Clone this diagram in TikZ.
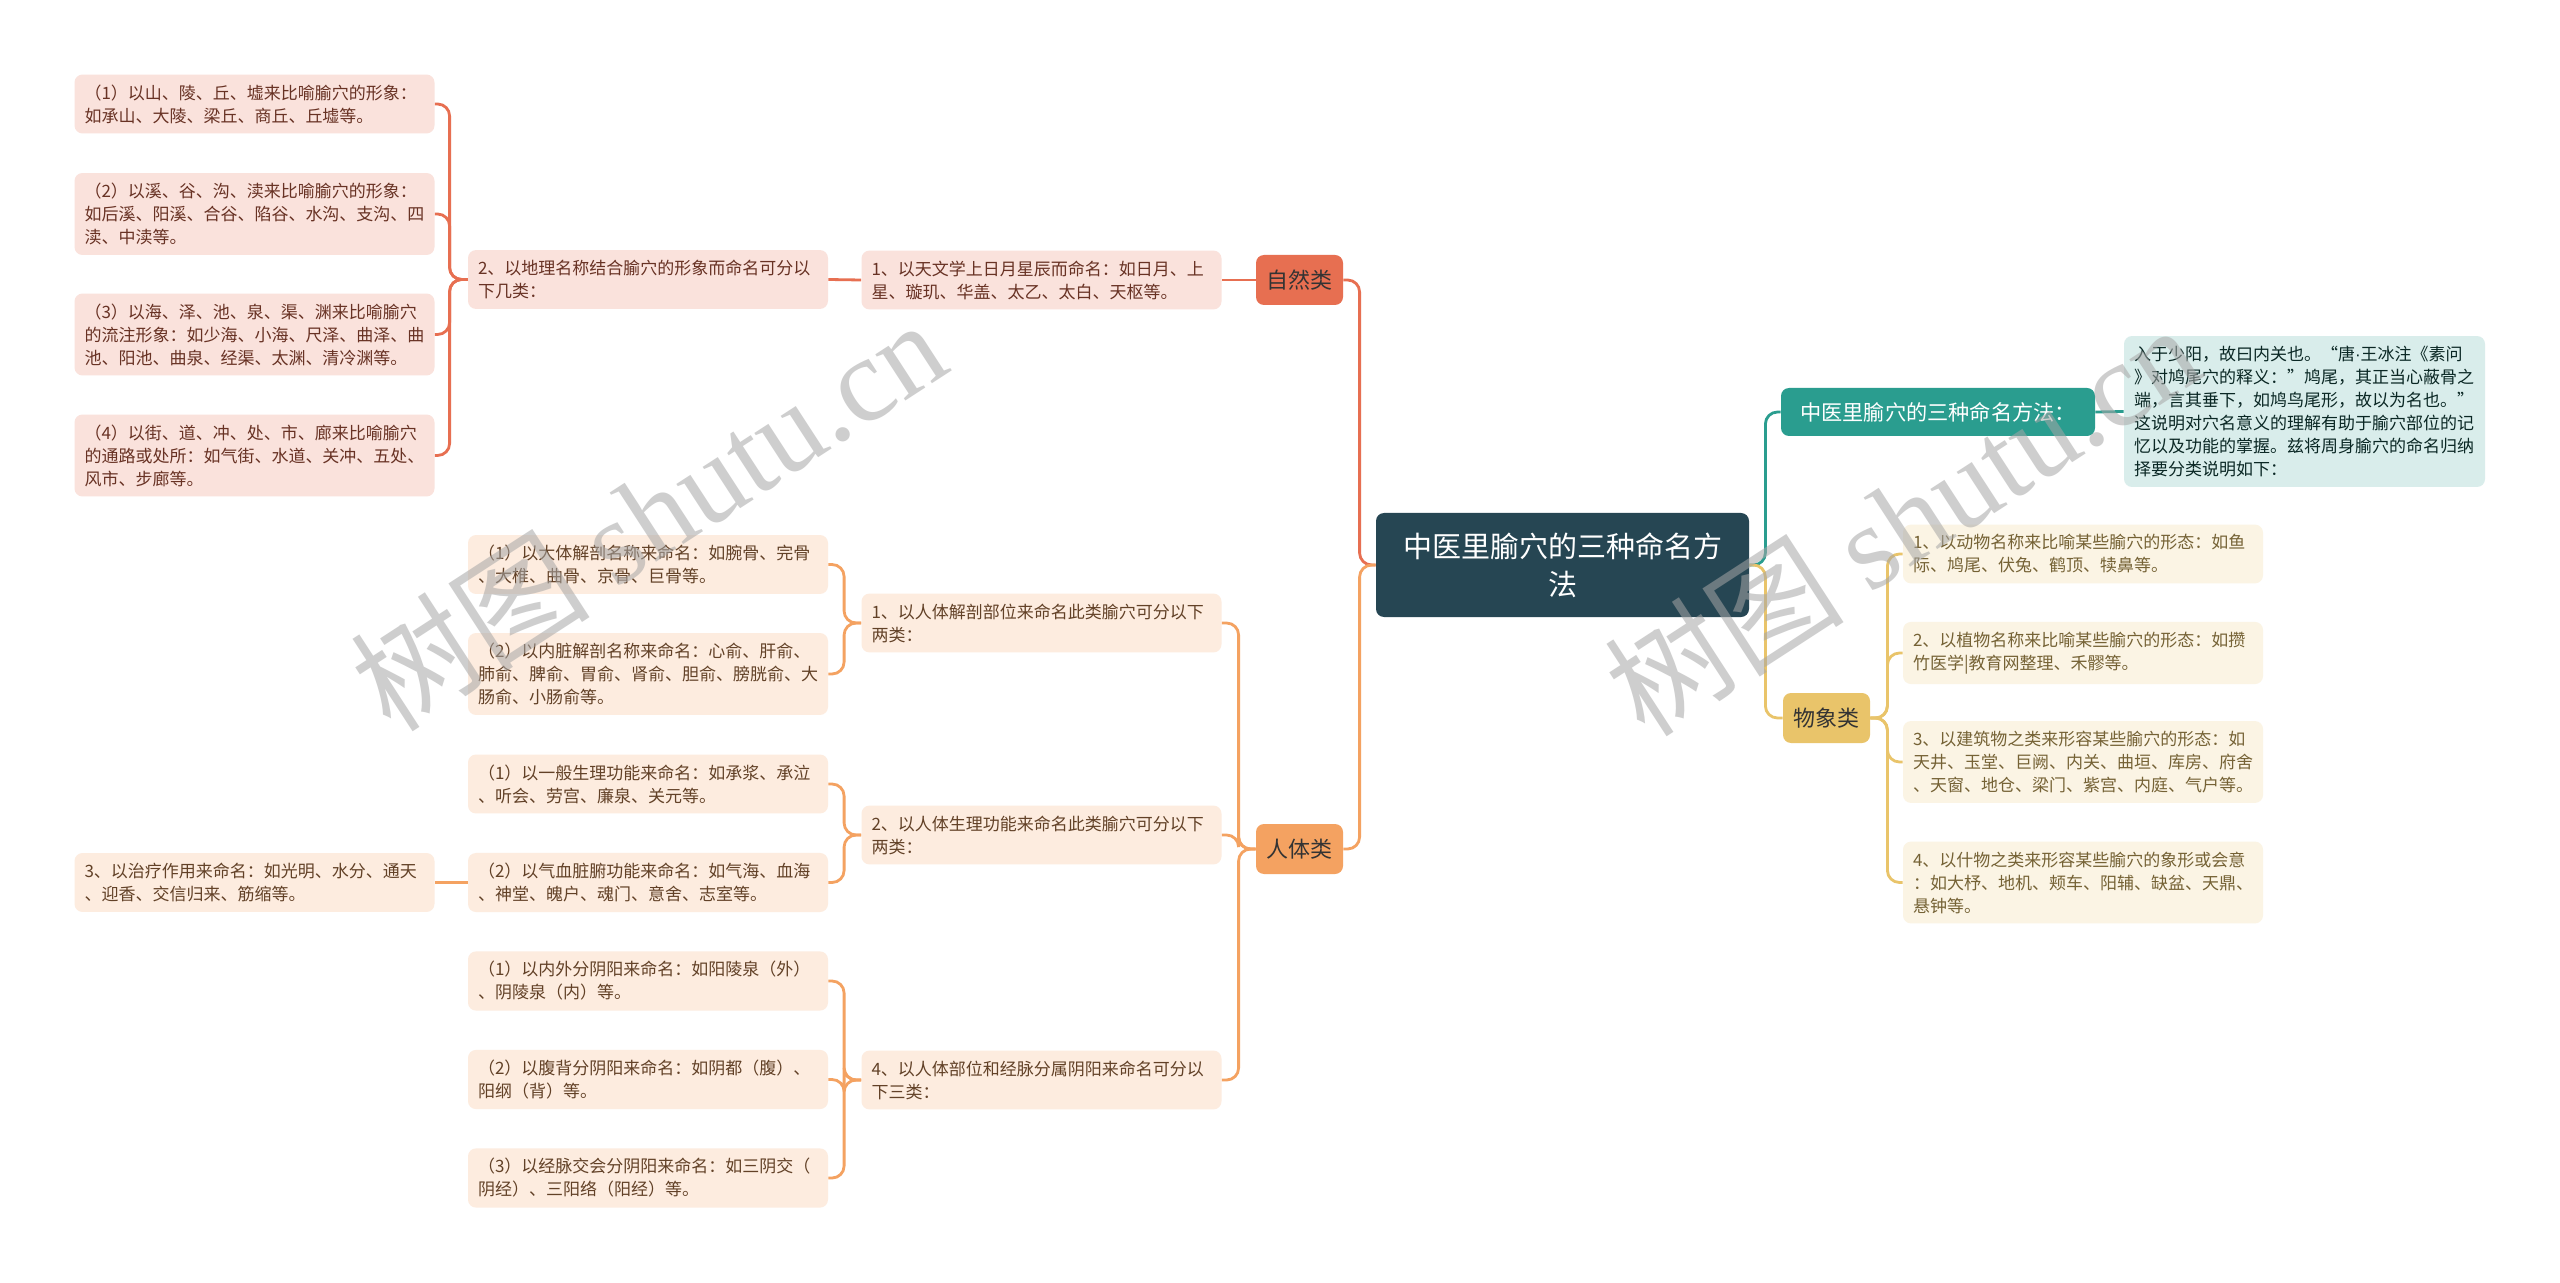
\documentclass[tikz,border=0pt]{standalone}
\usepackage{fontspec}
\setmainfont{Noto Sans CJK SC}
\newfontfamily\wmlatin{Liberation Serif}
\newfontfamily\latinsans{Liberation Sans}
\definecolor{cDark}{HTML}{264653}
\definecolor{cTeal}{HTML}{2A9D8F}
\definecolor{cGold}{HTML}{E9C46A}
\definecolor{cOrange}{HTML}{F4A261}
\definecolor{cCoral}{HTML}{E76F51}
\begin{document}
\begin{tikzpicture}[x=0.5pt,y=-0.5pt,
  leaf/.style={rounded corners=4pt,text width=170pt,align=left,inner xsep=5pt,inner ysep=5pt,font=\fontsize{8.5}{11.5}\selectfont},
  coralleaf/.style={leaf,fill=cCoral!20,text=cCoral!45!black},
  orangeleaf/.style={leaf,fill=cOrange!20,text=cOrange!40!black},
  goldleaf/.style={leaf,fill=cGold!18,text=cGold!50!black},
  branch/.style={rounded corners=4pt,minimum width=43.5pt,minimum height=25pt,inner sep=2pt,font=\fontsize{11}{13}\selectfont,text=black!80},
  link/.style={line width=1.4pt,rounded corners=6pt},
  wm/.style={text=black!35,opacity=0.55,rotate=33,font=\fontsize{60}{60}\selectfont}]
\useasboundingbox[fill=white] (0,0) rectangle (2560,1283);
% centre
\node[fill=cDark,text=white,rounded corners=4pt,text width=161pt,align=center,inner xsep=12.75pt,minimum height=52pt,font=\fontsize{14.5}{19}\selectfont] (root) at (1562.5,565) {中医里腧穴的三种命名方\\法};
% right side
\node[fill=cTeal,text=white,rounded corners=4pt,minimum width=157pt,minimum height=24pt,inner sep=2pt,font=\fontsize{10.6}{13}\selectfont] (method) at (1938,412) {中医里腧穴的三种命名方法：};
\node[leaf,fill=cTeal!18,text=cTeal!25!black,text width=170.5pt] (desc) at (2304.5,411.5) {入于少阳，故曰内关也。“唐{\latinsans ·}王冰注《素问\\》对鸠尾穴的释义：”鸠尾，其正当心蔽骨之\\端，言其垂下，如鸠鸟尾形，故以为名也。”\\这说明对穴名意义的理解有助于腧穴部位的记\\忆以及功能的掌握。兹将周身腧穴的命名归纳\\择要分类说明如下：};
\node[branch,fill=cGold] (wuxiang) at (1826.5,718) {物象类};
\node[goldleaf] (wx1) at (2083,554) {1、以动物名称来比喻某些腧穴的形态：如鱼\\际、鸠尾、伏兔、鹤顶、犊鼻等。};
\node[goldleaf] (wx2) at (2083,653) {2、以植物名称来比喻某些腧穴的形态：如攒\\竹医学|教育网整理、禾髎等。};
\node[goldleaf] (wx3) at (2083,762) {3、以建筑物之类来形容某些腧穴的形态：如\\天井、玉堂、巨阙、内关、曲垣、库房、府舍\\、天窗、地仓、梁门、紫宫、内庭、气户等。};
\node[goldleaf] (wx4) at (2083,882.5) {4、以什物之类来形容某些腧穴的象形或会意\\：如大杼、地机、颊车、阳辅、缺盆、天鼎、\\悬钟等。};
\draw[link,cTeal] (root.east) -- ++(16,0) |- (method.west);
\draw[link,cTeal] (method.east) -- (desc.west);
\draw[link,cGold] (root.east) -- ++(16,0) |- (wuxiang.west);
\foreach \n in {wx1,wx2,wx3,wx4}
  \draw[link,cGold] (wuxiang.east) -- ++(17,0) |- (\n.west);
% left side: natural things
\node[branch,fill=cCoral] (ziran) at (1299.5,280) {自然类};
\node[coralleaf] (tianwen) at (1041.5,280) {1、以天文学上日月星辰而命名：如日月、上\\星、璇玑、华盖、太乙、太白、天枢等。};
\node[coralleaf] (dili) at (648,279.5) {2、以地理名称结合腧穴的形象而命名可分以\\下几类：};
\node[coralleaf] (dili1) at (254.5,104) {（1）以山、陵、丘、墟来比喻腧穴的形象：\\如承山、大陵、梁丘、商丘、丘墟等。};
\node[coralleaf] (dili2) at (254.5,214) {（2）以溪、谷、沟、渎来比喻腧穴的形象：\\如后溪、阳溪、合谷、陷谷、水沟、支沟、四\\渎、中渎等。};
\node[coralleaf] (dili3) at (254.5,334.5) {（3）以海、泽、池、泉、渠、渊来比喻腧穴\\的流注形象：如少海、小海、尺泽、曲泽、曲\\池、阳池、曲泉、经渠、太渊、清冷渊等。};
\node[coralleaf] (dili4) at (254.5,455.5) {（4）以街、道、冲、处、市、廊来比喻腧穴\\的通路或处所：如气街、水道、关冲、五处、\\风市、步廊等。};
\draw[link,cCoral] (root.west) -- ++(-16,0) |- (ziran.east);
\draw[link,cCoral] (ziran.west) -- (tianwen.east);
\draw[link,cCoral] (tianwen.west) -- (dili.east);
\foreach \n in {dili1,dili2,dili3,dili4}
  \draw[link,cCoral] (dili.west) -- ++(-18,0) |- (\n.east);
% left side: human body
\node[branch,fill=cOrange] (renti) at (1299.5,849) {人体类};
\node[orangeleaf] (jiepou) at (1041.5,623) {1、以人体解剖部位来命名此类腧穴可分以下\\两类：};
\node[orangeleaf] (shengli) at (1041.5,835) {2、以人体生理功能来命名此类腧穴可分以下\\两类：};
\node[orangeleaf] (yinyang) at (1041.5,1080) {4、以人体部位和经脉分属阴阳来命名可分以\\下三类：};
\node[orangeleaf] (jp1) at (648,564.5) {（1）以大体解剖名称来命名：如腕骨、完骨\\、大椎、曲骨、京骨、巨骨等。};
\node[orangeleaf] (jp2) at (648,674) {（2）以内脏解剖名称来命名：心俞、肝俞、\\肺俞、脾俞、胃俞、肾俞、胆俞、膀胱俞、大\\肠俞、小肠俞等。};
\node[orangeleaf] (sl1) at (648,784) {（1）以一般生理功能来命名：如承浆、承泣\\、听会、劳宫、廉泉、关元等。};
\node[orangeleaf] (sl2) at (648,882.5) {（2）以气血脏腑功能来命名：如气海、血海\\、神堂、魄户、魂门、意舍、志室等。};
\node[orangeleaf] (zhiliao) at (254.5,882.5) {3、以治疗作用来命名：如光明、水分、通天\\、迎香、交信归来、筋缩等。};
\node[orangeleaf] (yy1) at (648,981) {（1）以内外分阴阳来命名：如阳陵泉（外）\\、阴陵泉（内）等。};
\node[orangeleaf] (yy2) at (648,1079.5) {（2）以腹背分阴阳来命名：如阴都（腹）、\\阳纲（背）等。};
\node[orangeleaf] (yy3) at (648,1178) {（3）以经脉交会分阴阳来命名：如三阴交（\\阴经）、三阳络（阳经）等。};
\draw[link,cOrange] (root.west) -- ++(-16,0) |- (renti.east);
\foreach \n in {jiepou,shengli,yinyang}
  \draw[link,cOrange] (renti.west) -- ++(-17,0) |- (\n.east);
\foreach \n in {jp1,jp2}
  \draw[link,cOrange] (jiepou.west) -- ++(-17,0) |- (\n.east);
\foreach \n in {sl1,sl2}
  \draw[link,cOrange] (shengli.west) -- ++(-17,0) |- (\n.east);
\foreach \n in {yy1,yy2,yy3}
  \draw[link,cOrange] (yinyang.west) -- ++(-17,0) |- (\n.east);
\draw[link,cOrange] (sl2.west) -- (zhiliao.east);
% watermark
\node[wm] (wmleft) at (648,514) {树图 {\wmlatin shutu.cn}};
\node[wm] (wmright) at (1902,519) {树图 {\wmlatin shutu.cn}};
\end{tikzpicture}
\end{document}
